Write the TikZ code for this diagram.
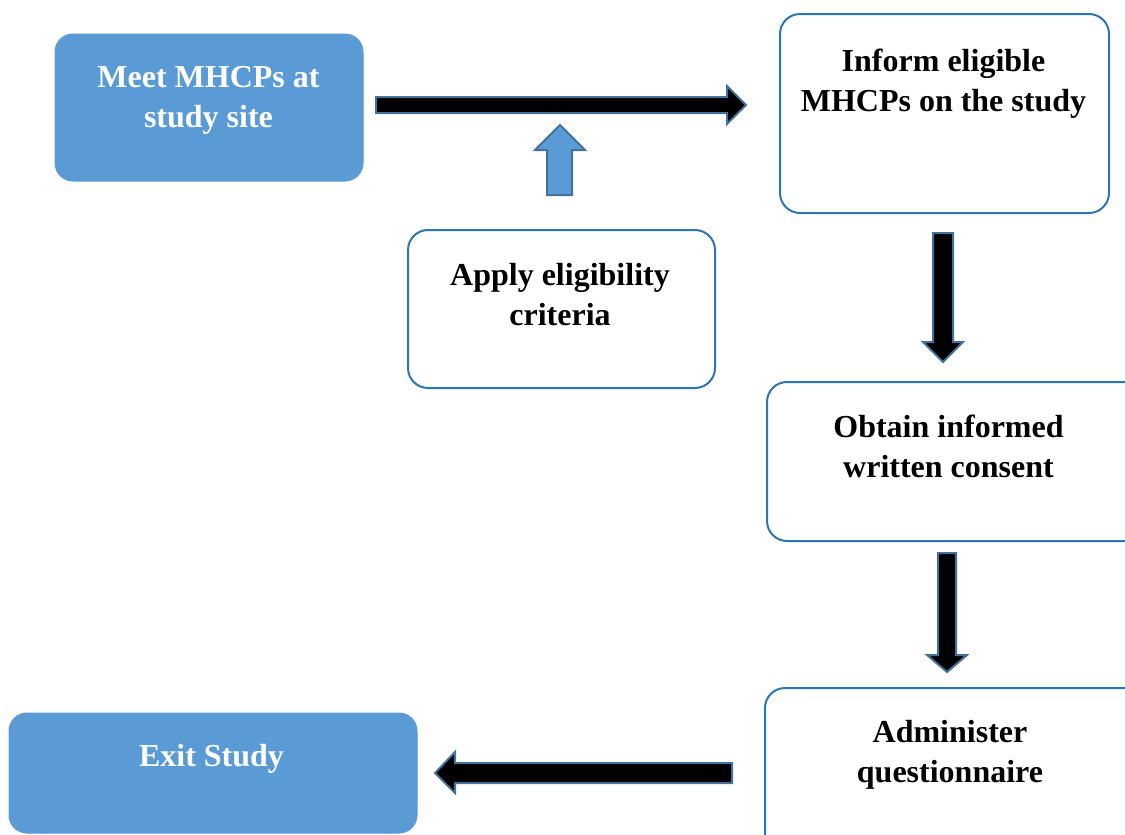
\documentclass[tikz,border=0pt]{standalone}
\usepackage{fontspec}
\setmainfont{Liberation Serif}
\usetikzlibrary{fit}
\definecolor{boxblue}{HTML}{5B9BD5}
\definecolor{edgeblue}{HTML}{2E75B6}
\definecolor{arrowedge}{HTML}{41719C}
\tikzset{
  box/.style={draw=edgeblue, line width=2pt, rounded corners=20pt, inner sep=0pt, fill=white},
  bluebox/.style={fill=boxblue, draw=boxblue, line width=1pt, rounded corners=18pt, inner sep=0pt},
  txt/.style={font=\fontsize{32}{40}\selectfont\bfseries, align=center, inner sep=0pt, anchor=base},
  blkarrow/.style={fill=black, draw=arrowedge, line width=2pt, line join=miter},
  bluearrow/.style={fill=boxblue, draw=arrowedge, line width=2pt, line join=miter},
}
\begin{document}
\begin{tikzpicture}[x=1pt,y=-1pt]
\useasboundingbox (0,0) rectangle (1125,835);
\clip (0,0) rectangle (1125,835);
\fill[white] (0,0) rectangle (1125,835);
% boxes
\node[bluebox, fit={(55,34)(363,181)}] (b1) {};
\node[box, fit={(780,14)(1109,213)}] (b2) {};
\node[box, fit={(408,230)(715,388)}] (b3) {};
\node[box, fit={(767,382)(1160,541)}] (b4) {};
\node[box, fit={(765,688)(1160,870)}] (b5) {};
\node[bluebox, fit={(9,713)(417,833)}] (b6) {};
% texts (base anchor = baseline of last line)
\node[txt, text=white] (t1) at (208.5,127) {Meet MHCPs at\\study site};
\node[txt] (t2) at (943.5,111) {Inform eligible\\MHCPs on the study};
\node[txt] (t3) at (560,325) {Apply eligibility\\criteria};
\node[txt] (t4) at (948.5,477) {Obtain informed\\written consent};
\node[txt] (t5) at (950,782) {Administer\\questionnaire};
\node[txt, text=white] (t6) at (211.5,766) {Exit Study};
% block arrows
\draw[blkarrow] (376,97) -- (727,97) -- (727,86) -- (746,105) -- (727,124) -- (727,113) -- (376,113) -- cycle;
\draw[bluearrow] (547,195) -- (547,150) -- (535,150) -- (560,125) -- (585,150) -- (572,150) -- (572,195) -- cycle;
\draw[blkarrow] (933,233) -- (953,233) -- (953,342) -- (963,342) -- (943,362) -- (923,342) -- (933,342) -- cycle;
\draw[blkarrow] (938,553) -- (956,553) -- (956,655) -- (967,655) -- (947,672) -- (927,655) -- (938,655) -- cycle;
\draw[blkarrow] (732,763) -- (455,763) -- (455,752) -- (435,773) -- (455,793) -- (455,783) -- (732,783) -- cycle;
\end{tikzpicture}
\end{document}
